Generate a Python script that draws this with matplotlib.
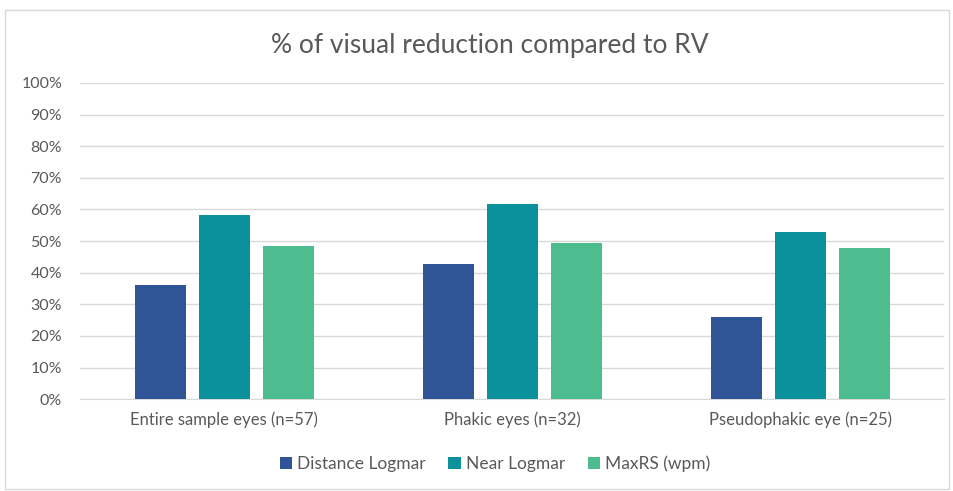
import matplotlib.pyplot as plt
import numpy as np
from matplotlib.patches import Rectangle
from matplotlib.ticker import PercentFormatter

categories = ["Entire sample eyes (n=57)", "Phakic eyes (n=32)", "Pseudophakic eye (n=25)"]
series_names = ["Distance Logmar", "Near Logmar", "MaxRS (wpm)"]
distance = [36.0, 42.9, 26.1]
near = [58.1, 61.8, 52.8]
maxrs = [48.6, 49.4, 47.9]
colors = ["#2F5597", "#0A919C", "#4DBD8F"]

plt.rcParams['font.family'] = ['Lato', 'DejaVu Sans']

fig = plt.figure(figsize=(9.54, 4.91), dpi=100)
ax = fig.add_axes([0.084, 0.187, 0.906, 0.644])

x = np.arange(len(categories))
width = 0.177
step = 0.222
for i, (vals, name) in enumerate(zip([distance, near, maxrs], series_names)):
    ax.bar(x + (i - 1) * step, vals, width, color=colors[i], label=name, zorder=3)

ax.set_xlim(-0.5, 2.5)
ax.set_ylim(0, 100)
ax.set_yticks(np.arange(0, 101, 10))
ax.yaxis.set_major_formatter(PercentFormatter(decimals=0))
ax.set_xticks(x)
ax.set_xticklabels(categories)
ax.tick_params(axis='both', length=0, labelsize=12, labelcolor='#595959')
ax.tick_params(axis='y', labelsize=11.5, pad=13)
ax.tick_params(axis='x', pad=9)
ax.grid(axis='y', color='#d9d9d9', linewidth=1, zorder=0)
for s in ['top', 'right', 'left']:
    ax.spines[s].set_visible(False)
ax.spines['bottom'].set_color('#d9d9d9')

fig.text(0.513, 0.908, "% of visual reduction compared to RV", ha='center', va='center',
         fontsize=19, color='#595959')

ax.legend(loc='center', bbox_to_anchor=(0.48, -0.205), ncol=3, frameon=False,
          fontsize=12.5, labelcolor='#595959', handlelength=0.7, handleheight=0.7,
          handletextpad=0.3, columnspacing=1.3)

fig.patches.append(Rectangle((0.005, 0.005), 0.99, 0.975, transform=fig.transFigure,
                             fill=False, edgecolor='#d9d9d9', linewidth=1))

fig.savefig('out.png', dpi=100)
